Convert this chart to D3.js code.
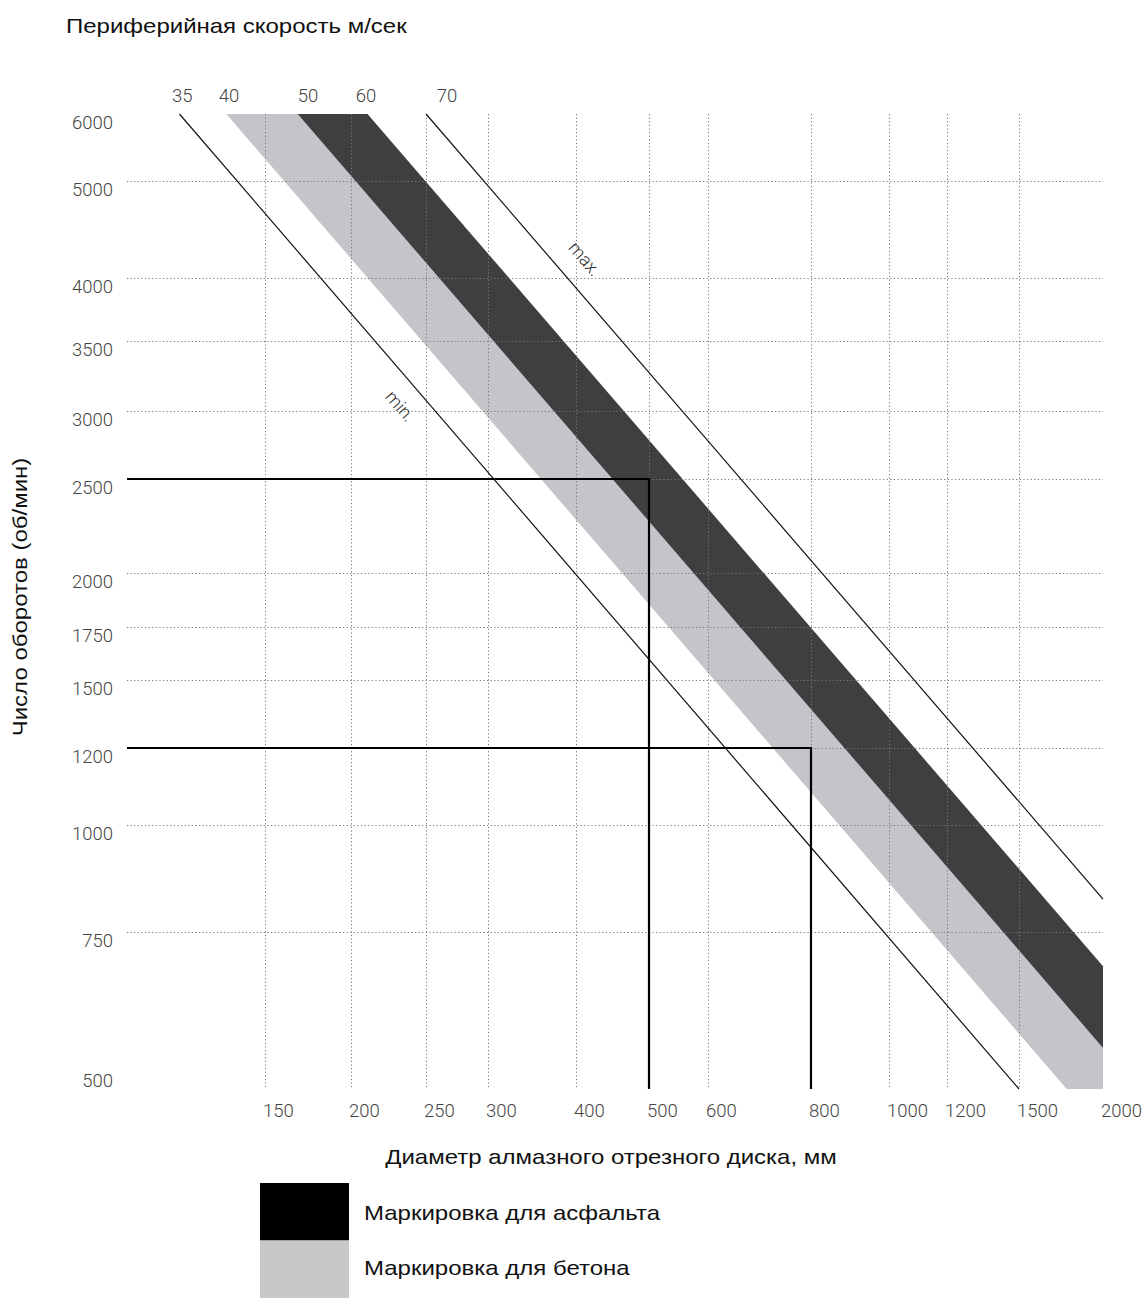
<!DOCTYPE html>
<html>
<head>
<meta charset="utf-8">
<script src="https://cdn.jsdelivr.net/npm/d3@7"></script>
<style>
  html, body { margin: 0; padding: 0; background: #fff; }
  svg { display: block; }
</style>
</head>
<body>
<svg id="chart" width="1148" height="1298"></svg>
<script>
// ---------------- DATA ----------------
const diameterTicks = [150, 200, 250, 300, 400, 500, 600, 800, 1000, 1200, 1500, 2000];
const rpmTicks = [500, 750, 1000, 1200, 1500, 1750, 2000, 2500, 3000, 3500, 4000, 5000, 6000];
const diameterMin = 100;   // left edge of the plot (mm)
const rpmMin = 470;        // bottom edge of the plot (rpm)

const speedLabels = ["35", "40", "50", "60", "70"];
const speedLabelDiameters = [120, 137, 175, 210, 267]; // where the labels sit along the top (rpm 6000)

// thin limit lines [diameter, rpm]
const minLine = [[119, 6000], [1500, 470]];   // 35 m/s
const maxLine = [[250, 6000], [2000, 827]];   // 70 m/s

// bands (polygons) [diameter, rpm]
const concreteBand = [[136, 6000], [169, 6000], [2000, 543], [2000, 470], [1784, 470]];
const asphaltBand  = [[169, 6000], [211, 6000], [2000, 689], [2000, 543]];

// example guide lines: diameter -> rpm
const guideDiameters = [500, 800];
const guideRpms = [2500, 1200];

const legendLabels = ["Маркировка для асфальта", "Маркировка для бетона"];

// ---------------- LAYOUT ----------------
const xPix = [127, 265, 351, 426, 488, 576, 649, 708, 811, 889, 947, 1019, 1103];
const yPix = [1089, 1072, 932, 825, 748, 680, 627, 573, 479, 411, 341, 278, 181, 114];

const x = d3.scaleLinear().domain([diameterMin, ...diameterTicks]).range(xPix);
const y = d3.scaleLinear().domain([rpmMin, ...rpmTicks]).range(yPix);

const svg = d3.select("#chart");
const tickFont = "Roboto, 'DejaVu Sans', sans-serif";
const textFont = "'Liberation Sans', Arial, sans-serif";
const stretch = 1.2;

const xLeft = x(diameterMin), xRight = x(2000);
const yTop = y(6000), yBottom = y(rpmMin);

// bands
const line = d3.line().x(d => x(d[0])).y(d => y(d[1]));
svg.append("path").attr("d", line(concreteBand) + "Z").attr("fill", "#c3c5c8");
svg.append("path").attr("d", line(asphaltBand) + "Z").attr("fill", "#3f3f42");

// gridlines (dotted, on top of bands)
const grid = svg.append("g").attr("stroke", "#777").attr("stroke-width", 1)
  .attr("stroke-dasharray", "1.2,2.4").attr("fill", "none");
grid.selectAll("line.h").data(rpmTicks.filter(v => v !== 500 && v !== 6000)).join("line")
  .attr("x1", xLeft).attr("x2", xRight)
  .attr("y1", d => Math.round(y(d)) + 0.5).attr("y2", d => Math.round(y(d)) + 0.5);
grid.selectAll("line.v").data(diameterTicks.filter(v => v !== 2000)).join("line")
  .attr("y1", yTop).attr("y2", yBottom)
  .attr("x1", d => Math.round(x(d)) + 0.5).attr("x2", d => Math.round(x(d)) + 0.5);

// thin limit lines
[minLine, maxLine].forEach(l => {
  svg.append("path").attr("d", line(l)).attr("stroke", "#111").attr("stroke-width", 1.2).attr("fill", "none");
});

// guide lines
guideDiameters.forEach((d, i) => {
  const r = guideRpms[i];
  svg.append("path")
    .attr("d", d3.line()([[xLeft, y(r)], [x(d), y(r)], [x(d), yBottom]]))
    .attr("stroke", "#000").attr("stroke-width", 2.2).attr("fill", "none");
});

// rotated labels min / max
function lineLabel(l, text, t, offset) {
  const x0 = x(l[0][0]), y0 = y(l[0][1]), x1 = x(l[1][0]), y1 = y(l[1][1]);
  const ang = Math.atan2(y1 - y0, x1 - x0);
  const len = Math.hypot(x1 - x0, y1 - y0);
  const ux = Math.cos(ang), uy = Math.sin(ang);
  const nx = uy, ny = -ux; // upper-right normal
  const px = x0 + ux * len * t + nx * offset;
  const py = y0 + uy * len * t + ny * offset;
  svg.append("text").attr("transform", `translate(${px},${py}) rotate(${ang * 180 / Math.PI})`)
    .attr("text-anchor", "middle").attr("dominant-baseline", "central")
    .attr("font-family", tickFont).attr("font-weight", 300).attr("font-size", 18)
    .attr("fill", "#333").text(text);
}
lineLabel(maxLine, "max.", 0.206, 26);
lineLabel(minLine, "min.", 0.284, -23);

// y tick labels
svg.append("g").selectAll("text").data(rpmTicks).join("text")
  .attr("x", 113).attr("y", d => y(d) + 15)
  .attr("text-anchor", "end")
  .attr("font-family", tickFont).attr("font-weight", 300).attr("font-size", 18.5)
  .attr("fill", "#444").text(d => d);

// x tick labels
svg.append("g").selectAll("text").data(diameterTicks).join("text")
  .attr("x", d => x(d) - 2).attr("y", 1117)
  .attr("text-anchor", "start")
  .attr("font-family", tickFont).attr("font-weight", 300).attr("font-size", 18.5)
  .attr("fill", "#444").text(d => d);

// speed labels on top
svg.append("g").selectAll("text").data(speedLabels).join("text")
  .attr("x", (d, i) => x(speedLabelDiameters[i])).attr("y", y(6000) - 12)
  .attr("text-anchor", "middle")
  .attr("font-family", tickFont).attr("font-weight", 300).attr("font-size", 18.5)
  .attr("fill", "#444").text(d => d);

// Arial-like texts, horizontally widened like in the reference
function wideText(px, py, rot, anchor, txt) {
  return svg.append("text")
    .attr("transform", `translate(${px},${py}) rotate(${rot}) scale(${stretch},1)`)
    .attr("text-anchor", anchor)
    .attr("font-family", textFont).attr("font-size", 20).attr("fill", "#111")
    .text(txt);
}

wideText(66, 33, 0, "start", "Периферийная скорость м/сек");
wideText(27, 597, -90, "middle", "Число оборотов (об/мин)");
wideText(611, 1164, 0, "middle", "Диаметр алмазного отрезного диска, мм");

// legend
const legendColors = ["#000000", "#c8c8c8"];
legendLabels.forEach((lab, i) => {
  svg.append("rect").attr("x", 260).attr("y", 1183 + i * 57.5).attr("width", 89).attr("height", 57.5)
    .attr("fill", legendColors[i]);
  wideText(364, 1220 + i * 55, 0, "start", lab);
});
</script>
</body>
</html>
